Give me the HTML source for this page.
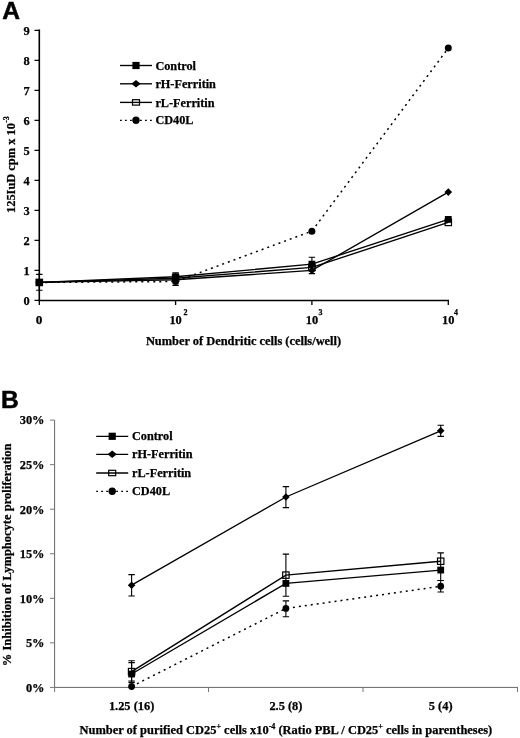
<!DOCTYPE html><html><head><meta charset="utf-8"><title>Figure</title>
<style>html,body{margin:0;padding:0;background:#fff}svg{display:block}text{font-family:"Liberation Serif",serif;font-weight:bold;fill:#000;stroke:#000;stroke-width:.25px}.p{font-family:"Liberation Sans",sans-serif;font-weight:bold;font-size:24.6px;stroke:#000;stroke-width:.5px}</style></head><body>
<svg width="520" height="738" viewBox="0 0 520 738">
<rect width="520" height="738" fill="#fff"/>
<text class="p" x="2.2" y="19.3">A</text>
<path d="M39.3 29.6V300.45H449" stroke="#000" stroke-width="1.6" fill="none"/>
<path d="M34.5 300.45H39.3M34.5 270.44H39.3M34.5 240.43H39.3M34.5 210.42H39.3M34.5 180.41H39.3M34.5 150.4H39.3M34.5 120.39H39.3M34.5 90.38H39.3M34.5 60.37H39.3M34.5 30.36H39.3M39.3 300.45V305.05M175.6 300.45V305.05M311.9 300.45V305.05M448.3 300.45V305.05" stroke="#000" stroke-width="1.3" fill="none"/>
<text x="29.8" y="304.75" font-size="12.4" text-anchor="end">0</text>
<text x="29.8" y="274.74" font-size="12.4" text-anchor="end">1</text>
<text x="29.8" y="244.73" font-size="12.4" text-anchor="end">2</text>
<text x="29.8" y="214.72" font-size="12.4" text-anchor="end">3</text>
<text x="29.8" y="184.71" font-size="12.4" text-anchor="end">4</text>
<text x="29.8" y="154.7" font-size="12.4" text-anchor="end">5</text>
<text x="29.8" y="124.69" font-size="12.4" text-anchor="end">6</text>
<text x="29.8" y="94.68" font-size="12.4" text-anchor="end">7</text>
<text x="29.8" y="64.67" font-size="12.4" text-anchor="end">8</text>
<text x="29.8" y="34.66" font-size="12.4" text-anchor="end">9</text>
<text x="39.1" y="323.6" font-size="13.3" text-anchor="middle">0</text>
<text x="169.4" y="323.6" font-size="12.4">10</text>
<text x="183.6" y="314.5" font-size="8">2</text>
<text x="305.7" y="323.6" font-size="12.4">10</text>
<text x="318.6" y="314.5" font-size="8">3</text>
<text x="442.1" y="323.6" font-size="12.4">10</text>
<text x="454.1" y="314.5" font-size="8">4</text>
<text x="243.5" y="345.2" font-size="12.4" text-anchor="middle">Number of Dendritic cells (cells/well)</text>
<text transform="translate(14.9 213) rotate(-90)" font-size="12.4">125IuD cpm x 10</text>
<text transform="translate(9.1 122.8) rotate(-90)" font-size="8">-3</text>
<path d="M39.3 282.44L175.6 281.54L311.9 231.13L448.3 48.07" stroke="#000" stroke-width="1.5" fill="none" stroke-dasharray="2 4"/>
<path d="M39.3 282.44L175.6 278.24L311.9 267.44L448.3 222.42" stroke="#000" stroke-width="1.35" fill="none"/>
<path d="M39.3 282.44L175.6 279.74L311.9 270.44L448.3 192.11" stroke="#000" stroke-width="1.35" fill="none"/>
<path d="M39.3 282.44L175.6 276.74L311.9 264.14L448.3 219.42" stroke="#000" stroke-width="1.35" fill="none"/>
<path d="M39.3 274.4V290.2M36.1 274.4H42.5M36.1 290.2H42.5" stroke="#000" stroke-width="1.1" fill="none"/>
<path d="M175.6 272.9V285.3M172.4 272.9H178.8M172.4 285.3H178.8" stroke="#000" stroke-width="1.3" fill="none"/>
<path d="M311.9 257.2V273.6M308.7 257.2H315.1M308.7 273.6H315.1" stroke="#000" stroke-width="1.1" fill="none"/>
<circle cx="39.3" cy="282.44" r="3.5" fill="#000"/>
<circle cx="175.6" cy="281.54" r="3.5" fill="#000"/>
<circle cx="311.9" cy="231.13" r="3.5" fill="#000"/>
<circle cx="448.3" cy="48.07" r="3.5" fill="#000"/>
<rect x="36.1" y="279.24" width="6.4" height="6.4" fill="none" stroke="#000" stroke-width="1.2"/>
<rect x="172.4" y="275.04" width="6.4" height="6.4" fill="none" stroke="#000" stroke-width="1.2"/>
<rect x="308.7" y="264.24" width="6.4" height="6.4" fill="none" stroke="#000" stroke-width="1.2"/>
<rect x="445.1" y="219.22" width="6.4" height="6.4" fill="none" stroke="#000" stroke-width="1.2"/>
<path d="M39.3 278.64L43.1 282.44L39.3 286.24L35.5 282.44Z" fill="#000"/>
<path d="M175.6 275.94L179.4 279.74L175.6 283.54L171.8 279.74Z" fill="#000"/>
<path d="M311.9 266.64L315.7 270.44L311.9 274.24L308.1 270.44Z" fill="#000"/>
<path d="M448.3 188.31L452.1 192.11L448.3 195.91L444.5 192.11Z" fill="#000"/>
<rect x="35.9" y="279.04" width="6.8" height="6.8" fill="#000"/>
<rect x="172.2" y="273.34" width="6.8" height="6.8" fill="#000"/>
<rect x="308.5" y="260.74" width="6.8" height="6.8" fill="#000"/>
<rect x="444.9" y="216.02" width="6.8" height="6.8" fill="#000"/>
<path d="M120 65.5L152 65.5" stroke="#000" stroke-width="1.35" fill="none"/>
<rect x="132.4" y="61.9" width="7.2" height="7.2" fill="#000"/>
<text x="155.4" y="69.6" font-size="12.25">Control</text>
<path d="M120 83.8L152 83.8" stroke="#000" stroke-width="1.35" fill="none"/>
<path d="M136 80.1L140.6 83.8L136 87.5L131.4 83.8Z" fill="#000"/>
<text x="155.4" y="87.9" font-size="12.25">rH-Ferritin</text>
<path d="M120 102.4L152 102.4" stroke="#000" stroke-width="1.35" fill="none"/>
<rect x="132.5" y="99.7" width="7" height="5.4" fill="none" stroke="#000" stroke-width="1.2"/>
<text x="155.4" y="106.5" font-size="12.25">rL-Ferritin</text>
<path d="M120 120.3L152 120.3" stroke="#000" stroke-width="1.35" fill="none" stroke-dasharray="1.8 3.2"/>
<circle cx="136" cy="120.3" r="3.7" fill="#000"/>
<text x="155.4" y="124.4" font-size="12.25">CD40L</text>
<text class="p" x="1.1" y="408">B</text>
<path d="M54.6 420V687.4H518" stroke="#666" stroke-width="1" fill="none"/>
<path d="M50 687.4H54.6M50 642.85H54.6M50 598.3H54.6M50 553.75H54.6M50 509.2H54.6M50 464.65H54.6M50 420.1H54.6M54.6 687.4V692M208.5 687.4V692M363 687.4V692M517.5 687.4V692" stroke="#777" stroke-width="1" fill="none"/>
<text x="44.5" y="691.7" font-size="12.4" text-anchor="end">0%</text>
<text x="44.5" y="647.15" font-size="12.4" text-anchor="end">5%</text>
<text x="44.5" y="602.6" font-size="12.4" text-anchor="end">10%</text>
<text x="44.5" y="558.05" font-size="12.4" text-anchor="end">15%</text>
<text x="44.5" y="513.5" font-size="12.4" text-anchor="end">20%</text>
<text x="44.5" y="468.95" font-size="12.4" text-anchor="end">25%</text>
<text x="44.5" y="424.4" font-size="12.4" text-anchor="end">30%</text>
<text x="131.6" y="710" font-size="12.4" text-anchor="middle">1.25 (16)</text>
<text x="285.9" y="710" font-size="12.4" text-anchor="middle">2.5 (8)</text>
<text x="440.7" y="710" font-size="12.4" text-anchor="middle">5 (4)</text>
<text x="79.5" y="733.9" font-size="12.45">Number of purified CD25<tspan dy="-5" font-size="8">+</tspan><tspan dy="5"> cells x10</tspan><tspan dy="-5" font-size="8">-4</tspan><tspan dy="5"> (Ratio PBL / CD25</tspan><tspan dy="-5" font-size="8">+</tspan><tspan dy="5"> cells in parentheses)</tspan></text>
<text transform="translate(10.9 666.2) rotate(-90)" font-size="12.5">% Inhibition of Lymphocyte proliferation</text>
<path d="M131.6 686.51L285.9 608.46L440.7 586.27" stroke="#000" stroke-width="1.5" fill="none" stroke-dasharray="2 4"/>
<path d="M131.6 671.63L285.9 575.13L440.7 561.23" stroke="#000" stroke-width="1.35" fill="none"/>
<path d="M131.6 585.2L285.9 496.99L440.7 430.79" stroke="#000" stroke-width="1.35" fill="none"/>
<path d="M131.6 674.03L285.9 583.42L440.7 570.06" stroke="#000" stroke-width="1.35" fill="none"/>
<path d="M131.6 574.6V596M128.4 574.6H134.8M128.4 596H134.8" stroke="#000" stroke-width="1.1" fill="none"/>
<path d="M285.9 486.6V507.6M282.7 486.6H289.1M282.7 507.6H289.1" stroke="#000" stroke-width="1.1" fill="none"/>
<path d="M440.7 425.3V436.4M437.5 425.3H443.9M437.5 436.4H443.9" stroke="#000" stroke-width="1.1" fill="none"/>
<path d="M131.6 660.7V681M128.4 660.7H134.8M128.4 681H134.8" stroke="#000" stroke-width="1.1" fill="none"/>
<path d="M131.6 662.6V682.4M128.4 662.6H134.8M128.4 682.4H134.8" stroke="#000" stroke-width="1.1" fill="none"/>
<path d="M285.9 554.1V596.3M282.7 554.1H289.1M282.7 596.3H289.1" stroke="#000" stroke-width="1.1" fill="none"/>
<path d="M285.9 600.9V616.8M282.7 600.9H289.1M282.7 616.8H289.1" stroke="#000" stroke-width="1.1" fill="none"/>
<path d="M440.7 552.9V580.5M437.5 552.9H443.9M437.5 580.5H443.9" stroke="#000" stroke-width="1.1" fill="none"/>
<path d="M440.7 580.5V592M437.5 580.5H443.9M437.5 592H443.9" stroke="#000" stroke-width="1.1" fill="none"/>
<circle cx="131.6" cy="686.51" r="3.4" fill="#000"/>
<circle cx="285.9" cy="608.46" r="3.4" fill="#000"/>
<circle cx="440.7" cy="586.27" r="3.4" fill="#000"/>
<rect x="128.4" y="668.43" width="6.4" height="6.4" fill="none" stroke="#000" stroke-width="1.2"/>
<rect x="282.7" y="571.93" width="6.4" height="6.4" fill="none" stroke="#000" stroke-width="1.2"/>
<rect x="437.5" y="558.03" width="6.4" height="6.4" fill="none" stroke="#000" stroke-width="1.2"/>
<path d="M131.6 581.4L135.4 585.2L131.6 589L127.8 585.2Z" fill="#000"/>
<path d="M285.9 493.19L289.7 496.99L285.9 500.79L282.1 496.99Z" fill="#000"/>
<path d="M440.7 426.99L444.5 430.79L440.7 434.59L436.9 430.79Z" fill="#000"/>
<rect x="128.2" y="670.63" width="6.8" height="6.8" fill="#000"/>
<rect x="282.5" y="580.02" width="6.8" height="6.8" fill="#000"/>
<rect x="437.3" y="566.66" width="6.8" height="6.8" fill="#000"/>
<path d="M96.2 436.3L128.2 436.3" stroke="#000" stroke-width="1.35" fill="none"/>
<rect x="108.6" y="432.7" width="7.2" height="7.2" fill="#000"/>
<text x="132" y="440.4" font-size="12.25">Control</text>
<path d="M96.2 454.3L128.2 454.3" stroke="#000" stroke-width="1.35" fill="none"/>
<path d="M112.2 450.6L116.8 454.3L112.2 458L107.6 454.3Z" fill="#000"/>
<text x="132" y="458.4" font-size="12.25">rH-Ferritin</text>
<path d="M96.2 473L128.2 473" stroke="#000" stroke-width="1.35" fill="none"/>
<rect x="108.7" y="470.3" width="7" height="5.4" fill="none" stroke="#000" stroke-width="1.2"/>
<text x="132" y="477.1" font-size="12.25">rL-Ferritin</text>
<path d="M96.2 491.3L128.2 491.3" stroke="#000" stroke-width="1.35" fill="none" stroke-dasharray="1.8 3.2"/>
<circle cx="112.2" cy="491.3" r="3.7" fill="#000"/>
<text x="132" y="495.4" font-size="12.25">CD40L</text>
</svg></body></html>
